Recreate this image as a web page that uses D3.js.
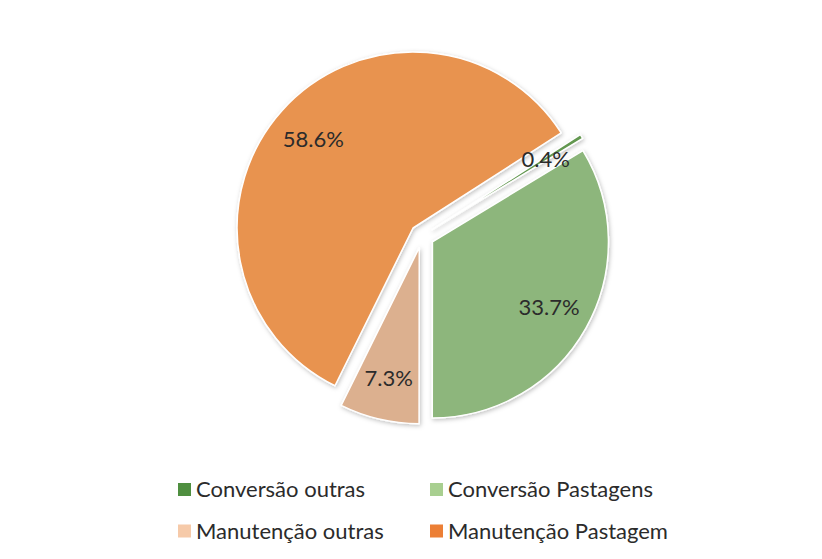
<!DOCTYPE html>
<html>
<head>
<meta charset="utf-8">
<script src="https://cdn.jsdelivr.net/npm/d3@7"></script>
<style>
  html, body { margin: 0; padding: 0; background: #ffffff; }
  svg { display: block; }
  text { font-family: Lato, "Open Sans", "DejaVu Sans", sans-serif; fill: #2b2b2b; }
</style>
</head>
<body>
<svg id="chart" width="822" height="559"></svg>
<script>
// Share of each land-use category
const categories = ["Conversão outras", "Conversão Pastagens", "Manutenção outras", "Manutenção Pastagem"];
const values = [0.4, 33.7, 7.3, 58.6];
const labels = ["0.4%", "33.7%", "7.3%", "58.6%"];
const sliceColors = ["#62974f", "#8db67b", "#dcb08f", "#e8934f"];
const legendColors = ["#4f8f40", "#a8cf90", "#f6caa9", "#ec7f35"];

const svg = d3.select("#chart");
const cx = 422, cy = 236, radius = 176, explode = 12;
const firstSliceAngle = 57.3 * Math.PI / 180;

// soft shadow under the slices
const defs = svg.append("defs");
const f = defs.append("filter").attr("id", "shadow")
  .attr("x", "-20%").attr("y", "-20%").attr("width", "140%").attr("height", "140%");
f.append("feDropShadow").attr("dx", 1).attr("dy", 1.5).attr("stdDeviation", 2.2)
  .attr("flood-color", "#000").attr("flood-opacity", 0.25);

const data = categories.map((c, i) => ({ name: c, value: values[i], label: labels[i], color: sliceColors[i], legend: legendColors[i] }));

const pie = d3.pie().sort(null).value(d => d.value)
  .startAngle(firstSliceAngle).endAngle(firstSliceAngle + 2 * Math.PI);
const arcs = pie(data);
const arc = d3.arc().innerRadius(0).outerRadius(radius);

const g = svg.append("g").attr("transform", `translate(${cx},${cy})`);

// position along a slice's mid-angle, measured from the pie centre
function offset(d, dist) {
  const a = (d.startAngle + d.endAngle) / 2;
  return [Math.sin(a) * dist, -Math.cos(a) * dist];
}

// exploded slices
g.append("g").selectAll("path").data(arcs).join("path")
  .attr("transform", d => { const [x, y] = offset(d, explode); return `translate(${x},${y})`; })
  .attr("d", arc)
  .attr("fill", d => d.data.color)
  .attr("stroke", "#ffffff")
  .attr("stroke-width", 1.5)
  .attr("stroke-linejoin", "round")
  .attr("filter", "url(#shadow)");

// percentage labels, drawn above every slice
g.append("g").selectAll("text").data(arcs).join("text")
  .attr("transform", d => { const [x, y] = offset(d, explode + radius * 0.76); return `translate(${x},${y})`; })
  .attr("text-anchor", "middle")
  .attr("dy", "0.36em")
  .attr("font-size", 22)
  .text(d => d.data.label);

// legend: two columns, two rows
const legendX = [178, 430];
const legendY = [489.5, 531];
const leg = svg.append("g");
data.forEach((d, i) => {
  const col = i % 2, row = Math.floor(i / 2);
  const item = leg.append("g").attr("transform", `translate(${legendX[col]},${legendY[row]})`);
  item.append("rect").attr("x", 0).attr("y", -6.5).attr("width", 13).attr("height", 13).attr("fill", d.legend);
  item.append("text").attr("x", 18).attr("dy", "0.36em").attr("font-size", 22).text(d.name);
});
</script>
</body>
</html>
